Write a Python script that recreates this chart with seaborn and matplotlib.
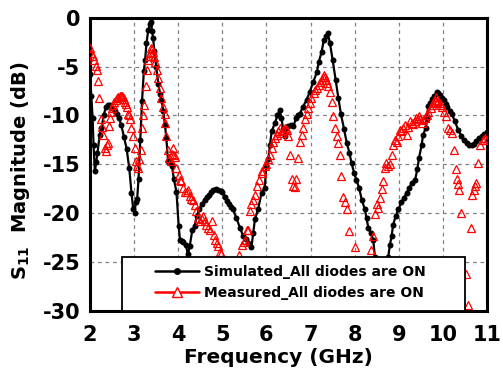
import matplotlib
matplotlib.use("Agg")
import matplotlib.pyplot as plt
import seaborn as sns
import pandas as pd
from matplotlib.lines import Line2D
from matplotlib.patches import Rectangle

# ---------------- data ----------------
sim_freq = [2.00, 2.03, 2.06, 2.08, 2.11, 2.14, 2.17, 2.22, 2.26, 2.31,
            2.36, 2.41, 2.46, 2.51, 2.56, 2.61, 2.66, 2.71, 2.77, 2.83,
            2.89, 2.94, 2.98, 3.01, 3.04, 3.07, 3.10, 3.14, 3.18, 3.22,
            3.25, 3.28, 3.32, 3.36, 3.38, 3.41, 3.43, 3.46, 3.50, 3.55,
            3.59, 3.62, 3.66, 3.70, 3.73, 3.77, 3.82, 3.86, 3.90, 3.96,
            4.01, 4.04, 4.08, 4.11, 4.17, 4.22, 4.26, 4.32, 4.37, 4.42,
            4.48, 4.53, 4.60, 4.65, 4.70, 4.75, 4.79, 4.85, 4.91, 4.96,
            5.00, 5.06, 5.10, 5.15, 5.20, 5.24, 5.32, 5.40, 5.47, 5.53,
            5.59, 5.66, 5.70, 5.74, 5.81, 5.89, 5.96, 6.00, 6.04, 6.08,
            6.12, 6.19, 6.25, 6.30, 6.34, 6.38, 6.42, 6.49, 6.55, 6.61,
            6.67, 6.72, 6.76, 6.83, 6.91, 6.98, 7.06, 7.14, 7.19, 7.25,
            7.30, 7.36, 7.39, 7.44, 7.50, 7.57, 7.63, 7.69, 7.76, 7.82,
            7.88, 7.93, 7.99, 8.04, 8.10, 8.16, 8.23, 8.27, 8.31, 8.36,
            8.42, 8.46, 8.52, 8.60, 8.68, 8.76, 8.80, 8.84, 8.87, 8.93,
            8.99, 9.06, 9.12, 9.18, 9.24, 9.29, 9.37, 9.42, 9.46, 9.52,
            9.55, 9.61, 9.63, 9.67, 9.71, 9.76, 9.80, 9.86, 9.90, 9.93,
            9.98, 10.02, 10.06, 10.10, 10.15, 10.20, 10.27, 10.35, 10.42, 10.48,
            10.54, 10.60, 10.65, 10.70, 10.76, 10.82, 10.88, 10.94, 11.00]
sim_db = [-5.8, -8.0, -10.3, -13.0, -15.7, -14.8, -13.8, -12.0, -11.3, -10.0,
          -9.1, -8.9, -8.9, -9.2, -9.5, -9.9, -10.3, -11.0, -12.2, -13.4,
          -15.4, -17.9, -19.6, -20.0, -18.8, -18.5, -16.5, -12.5, -8.5, -5.5,
          -4.3, -2.6, -1.3, -0.6, -0.4, -1.4, -2.1, -3.4, -5.0, -6.8,
          -7.8, -8.4, -9.5, -11.0, -12.3, -14.7, -14.9, -15.2, -16.5, -17.8,
          -21.3, -22.7, -22.8, -22.9, -23.2, -24.2, -23.4, -21.7, -21.3, -20.3,
          -19.6, -19.1, -18.6, -18.3, -18.1, -17.8, -17.6, -17.5, -17.6, -17.7,
          -17.8, -18.3, -18.7, -19.1, -19.4, -19.6, -20.5, -21.5, -22.3, -22.6,
          -23.0, -23.5, -22.0, -20.6, -19.6, -17.9, -17.4, -15.2, -14.5, -13.0,
          -11.6, -10.8, -10.0, -9.4, -10.3, -11.4, -12.1, -11.1, -11.0, -11.1,
          -10.3, -10.0, -9.8, -9.1, -8.4, -7.6, -6.6, -5.6, -4.5, -3.5,
          -2.3, -1.9, -1.6, -2.6, -4.3, -6.4, -8.2, -9.9, -11.4, -12.8,
          -13.8, -14.9, -15.9, -16.6, -17.4, -18.6, -19.6, -20.5, -21.5, -22.0,
          -22.7, -24.5, -26.5, -27.5, -26.5, -24.5, -23.2, -22.3, -21.2, -20.3,
          -19.6, -18.9, -18.4, -17.9, -17.4, -16.9, -16.6, -15.5, -14.3, -13.0,
          -12.0, -11.3, -10.4, -9.0, -8.7, -8.3, -8.0, -7.6, -7.7, -7.9,
          -8.2, -8.4, -8.8, -9.1, -9.5, -9.8, -10.6, -11.5, -12.1, -12.5,
          -12.8, -13.0, -13.0, -12.9, -12.6, -12.3, -12.1, -11.9, -11.7]

meas_freq = [2.00, 2.03, 2.06, 2.10, 2.13, 2.15, 2.18, 2.21, 2.24, 2.27,
             2.30, 2.34, 2.36, 2.38, 2.41, 2.43, 2.45, 2.47, 2.50, 2.52,
             2.55, 2.58, 2.61, 2.64, 2.67, 2.70, 2.73, 2.75, 2.77, 2.79,
             2.81, 2.83, 2.86, 2.88, 2.90, 2.94, 2.98, 3.02, 3.05, 3.07,
             3.09, 3.12, 3.15, 3.18, 3.21, 3.23, 3.26, 3.29, 3.32, 3.34,
             3.36, 3.39, 3.41, 3.43, 3.45, 3.47, 3.51, 3.54, 3.58, 3.62,
             3.66, 3.70, 3.71, 3.73, 3.77, 3.80, 3.83, 3.86, 3.88, 3.90,
             3.92, 3.96, 4.01, 4.04, 4.07, 4.11, 4.15, 4.19, 4.22, 4.26,
             4.30, 4.34, 4.38, 4.41, 4.45, 4.49, 4.53, 4.56, 4.60, 4.64,
             4.68, 4.72, 4.76, 4.80, 4.83, 4.87, 4.91, 4.94, 4.98, 5.03,
             5.08, 5.15, 5.22, 5.30, 5.37, 5.44, 5.48, 5.51, 5.55, 5.59,
             5.62, 5.66, 5.70, 5.74, 5.79, 5.84, 5.89, 5.91, 5.96, 5.99,
             6.04, 6.08, 6.12, 6.15, 6.19, 6.23, 6.27, 6.30, 6.34, 6.38,
             6.42, 6.46, 6.49, 6.53, 6.57, 6.61, 6.65, 6.68, 6.72, 6.76,
             6.80, 6.83, 6.87, 6.91, 6.95, 6.98, 7.02, 7.07, 7.10, 7.14,
             7.19, 7.22, 7.25, 7.28, 7.30, 7.33, 7.35, 7.38, 7.40, 7.44,
             7.48, 7.51, 7.55, 7.59, 7.63, 7.66, 7.70, 7.73, 7.78, 7.83,
             7.88, 8.00, 8.10, 8.20, 8.30, 8.38, 8.42, 8.46, 8.50, 8.54,
             8.57, 8.61, 8.65, 8.68, 8.72, 8.76, 8.80, 8.84, 8.87, 8.91,
             8.95, 8.99, 9.03, 9.06, 9.10, 9.14, 9.18, 9.21, 9.25, 9.29,
             9.33, 9.36, 9.40, 9.43, 9.46, 9.49, 9.52, 9.55, 9.59, 9.63,
             9.67, 9.72, 9.75, 9.78, 9.81, 9.84, 9.87, 9.90, 9.93, 9.96,
             9.99, 10.03, 10.07, 10.12, 10.16, 10.20, 10.25, 10.29, 10.32, 10.35,
             10.37, 10.42, 10.52, 10.58, 10.63, 10.67, 10.70, 10.73, 10.76, 10.80,
             10.85, 10.90, 10.95, 11.00]
meas_db = [-3.1, -3.6, -3.9, -4.3, -4.9, -5.3, -6.5, -8.2, -10.4, -11.2,
           -12.0, -13.3, -13.6, -13.0, -12.8, -11.1, -10.3, -9.6, -9.2, -8.9,
           -8.6, -8.4, -8.2, -8.1, -8.0, -8.0, -8.0, -8.1, -8.3, -8.6,
           -8.8, -9.1, -9.8, -10.0, -10.4, -11.3, -12.1, -13.3, -14.7, -15.2,
           -15.4, -14.5, -13.5, -11.3, -10.0, -8.9, -7.0, -5.3, -4.3, -3.9,
           -3.6, -3.1, -3.2, -3.5, -4.0, -4.5, -5.3, -6.2, -7.2, -8.2,
           -9.1, -9.9, -10.8, -12.1, -13.5, -14.3, -14.7, -13.9, -13.3, -14.0,
           -14.2, -15.4, -16.1, -16.6, -16.7, -17.4, -17.8, -17.8, -17.6, -18.2,
           -18.5, -18.6, -19.2, -19.8, -20.5, -20.8, -20.6, -20.3, -20.8, -21.2,
           -21.5, -21.7, -20.8, -22.2, -22.7, -23.0, -23.4, -24.0, -24.2, -25.5,
           -27.5, -29.8, -27.5, -25.5, -24.3, -23.2, -22.9, -22.7, -21.7, -21.7,
           -19.8, -19.1, -18.6, -18.1, -17.2, -16.6, -15.7, -15.9, -15.2, -15.0,
           -14.5, -14.0, -13.3, -12.7, -12.3, -12.0, -11.6, -11.3, -11.8, -11.5,
           -11.3, -11.5, -12.1, -14.0, -16.5, -17.2, -17.3, -16.5, -14.3, -12.7,
           -12.0, -11.3, -10.4, -9.8, -9.2, -8.7, -8.2, -7.7, -7.4, -7.2,
           -6.9, -6.6, -6.4, -6.1, -5.9, -6.1, -6.4, -6.7, -7.0, -7.6,
           -8.6, -10.1, -11.3, -12.1, -12.8, -14.0, -16.2, -18.3, -18.9, -19.6,
           -21.8, -23.5, -26.0, -27.5, -25.5, -23.8, -22.3, -20.1, -19.1, -19.5,
           -18.4, -17.5, -16.7, -15.4, -14.9, -15.2, -15.0, -14.0, -13.0, -12.5,
           -12.7, -12.1, -11.5, -11.6, -11.3, -11.0, -12.0, -11.2, -10.6, -10.8,
           -10.9, -10.6, -10.3, -10.4, -10.1, -10.4, -10.8, -10.5, -10.3, -10.0,
           -9.6, -9.2, -8.9, -8.7, -8.4, -8.1, -8.6, -8.5, -8.7, -8.9,
           -9.1, -9.6, -10.1, -11.3, -11.5, -11.8, -13.5, -15.5, -16.5, -17.0,
           -17.6, -20.0, -26.2, -29.4, -21.5, -18.1, -17.6, -17.2, -16.9, -14.9,
           -13.0, -12.5, -12.3, -12.5]

x_ticks = [2, 3, 4, 5, 6, 7, 8, 9, 10, 11]
y_ticks = [-30, -25, -20, -15, -10, -5, 0]
series_labels = ["Simulated_All diodes are ON", "Measured_All diodes are ON"]
x_label = "Frequency (GHz)"
y_label = "S$_{11}$  Magnitude (dB)"

# ---------------- style ----------------
sns.set_style("white")
plt.rcParams["font.family"] = ["DejaVu Sans"]
plt.rcParams["font.weight"] = "bold"
plt.rcParams["axes.labelweight"] = "bold"
plt.rcParams["text.color"] = "black"
plt.rcParams["axes.labelcolor"] = "black"
plt.rcParams["xtick.color"] = "black"
plt.rcParams["ytick.color"] = "black"

fig = plt.figure(figsize=(5.03, 3.71), dpi=100)
ax = fig.add_axes([90 / 503, 1 - 311 / 371, 397 / 503, 293.3 / 371])

sim = pd.DataFrame({"freq": sim_freq, "db": sim_db})
meas = pd.DataFrame({"freq": meas_freq, "db": meas_db})

sns.lineplot(data=sim, x="freq", y="db", ax=ax, color="black", lw=1.6,
             marker="o", markersize=4.3, markeredgewidth=0, estimator=None,
             sort=False, errorbar=None, legend=False, zorder=3)
sns.lineplot(data=meas, x="freq", y="db", ax=ax, color="red", linestyle="none",
             marker="^", markersize=5.5, markerfacecolor="none",
             markeredgecolor="red", markeredgewidth=0.9, estimator=None,
             sort=False, errorbar=None, legend=False, zorder=4)

ax.set_xlim(2, 11)
ax.set_ylim(-30, 0)
ax.set_xticks(x_ticks)
ax.set_yticks(y_ticks)
ax.set_xticklabels([str(t) for t in x_ticks])
ax.set_yticklabels([str(t) for t in y_ticks])
ax.tick_params(axis="both", direction="out", length=6, width=1.8,
               labelsize=15, colors="black", labelcolor="black")
ax.tick_params(axis="y", pad=1)
ax.tick_params(axis="x", pad=4)
for lab in ax.get_xticklabels() + ax.get_yticklabels():
    lab.set_fontweight("bold")

ax.set_axisbelow(True)
ax.grid(True, linestyle=(0, (3, 3)), color="#808080", lw=0.9)

for sp in ax.spines.values():
    sp.set_visible(True)
    sp.set_linewidth(2.2)
    sp.set_color("black")

ax.set_xlabel(x_label, fontsize=14.5, fontweight="bold", color="black")
ax.set_ylabel(y_label, fontsize=14, fontweight="bold", color="black")
ax.xaxis.set_label_coords(0.474, -0.125)
ax.yaxis.set_label_coords(-0.146, 0.48)

# legend box
rect = Rectangle((0.081, 0.0), 0.864, 0.184, transform=ax.transAxes,
                 facecolor="white", edgecolor="black", lw=1.3, zorder=6,
                 clip_on=False)
ax.add_patch(rect)

handles = [
    Line2D([], [], color="black", lw=1.8, marker="o", markersize=5,
           markeredgewidth=0),
    Line2D([], [], color="red", lw=1.8, marker="^", markersize=7,
           markerfacecolor="white", markeredgecolor="red", markeredgewidth=1.0),
]
leg = ax.legend(handles, series_labels, loc="center left",
                bbox_to_anchor=((155 - 90) / 397, (311 - 282.2) / 293.3),
                frameon=False, borderpad=0, borderaxespad=0,
                handlelength=3.2, handletextpad=0.3, labelspacing=0.5,
                prop={"weight": "bold", "size": 10})
for t in leg.get_texts():
    t.set_color("black")
leg.set_zorder(7)

fig.savefig("out.png", dpi=100)
